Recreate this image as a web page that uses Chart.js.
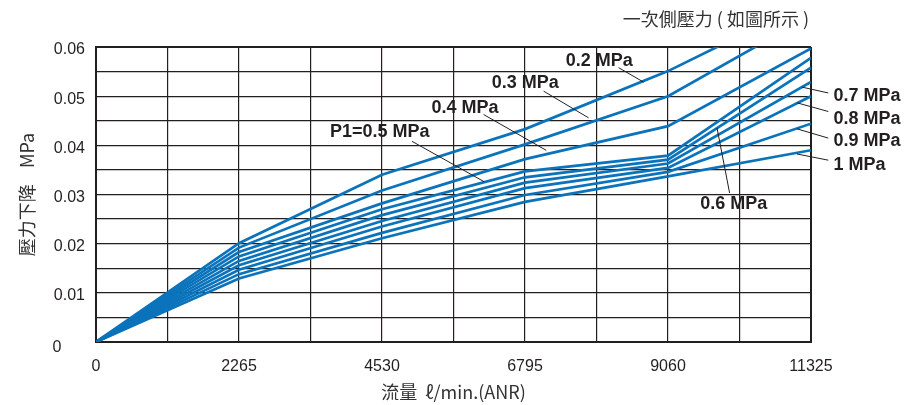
<!DOCTYPE html>
<html lang="zh-Hant">
<head>
<meta charset="UTF-8">
<title>壓力下降</title>
<script src="https://cdn.jsdelivr.net/npm/chart.js"></script>
<style>
  html, body { margin: 0; padding: 0; background: #fff; }
  #wrap { width: 906px; height: 405px; }
</style>
</head>
<body>
<div id="wrap"><canvas id="chart" width="906" height="405"></canvas></div>
<script>
// flow (l/min ANR) and pressure drop (MPa) for each primary pressure
const flow = [0, 2265, 4530, 6795, 9060, 11325];
const drop02 = [0, 0.0201, 0.0340, 0.0433, 0.0551, 0.0694]; // leaves the frame at the top
const drop03 = [0, 0.0192, 0.0308, 0.0402, 0.0500, 0.0664]; // leaves the frame at the top
const drop04 = [0, 0.0183, 0.0282, 0.0372, 0.0439, 0.0597];
const drop05 = [0, 0.0174, 0.0270, 0.0347, 0.0379, 0.0578];
const drop06 = [0, 0.0165, 0.0258, 0.0335, 0.0371, 0.0558];
const drop07 = [0, 0.0156, 0.0246, 0.0324, 0.0363, 0.0529];
const drop08 = [0, 0.0147, 0.0235, 0.0313, 0.0354, 0.0500];
const drop09 = [0, 0.0138, 0.0222, 0.0299, 0.0346, 0.0444];
const drop10 = [0, 0.0129, 0.0211, 0.0285, 0.0337, 0.0390];
const pressures = ['0.2', '0.3', '0.4', '0.5', '0.6', '0.7', '0.8', '0.9', '1'];
const drops = [drop02, drop03, drop04, drop05, drop06, drop07, drop08, drop09, drop10];

const xTickLabels = ['0', '2265', '4530', '6795', '9060', '11325'];
const yTickLabels = ['0', '0.01', '0.02', '0.03', '0.04', '0.05', '0.06'];

// curve labels: text anchor and leader line, in data units
const notes = [
  { text: '0.2 MPa', at: [7972, 0.05714], align: 'center', lead: [[8277, 0.0558], [8673, 0.05286]] },
  { text: '0.3 MPa', at: [6800, 0.05273], align: 'center', lead: [[7090, 0.05102], [7802, 0.04559]] },
  { text: '0.4 MPa', at: [5845, 0.04749], align: 'center', lead: [[6139, 0.04627], [7132, 0.03898]] },
  { text: 'P1=0.5 MPa', at: [4495, 0.04269], align: 'center', lead: [[5005, 0.04082], [6150, 0.03259]] },
  { text: '0.6 MPa', at: [10102, 0.0280], align: 'center', lead: [[10036, 0.03029], [9836, 0.04355]] },
  { text: '0.7 MPa', at: [11681, 0.0500], align: 'left', lead: [[11182, 0.05184], [11599, 0.05065]] },
  { text: '0.8 MPa', at: [11681, 0.04539], align: 'left', lead: [[11103, 0.04865], [11599, 0.04688]] },
  { text: '0.9 MPa', at: [11681, 0.04082], align: 'left', lead: [[11103, 0.04335], [11599, 0.04147]] },
  { text: '1 MPa', at: [11681, 0.03606], align: 'left', lead: [[11103, 0.03824], [11599, 0.03698]] }
];

const ink = '#231f20';
const blue = '#0a73bb';
const sans = '"Liberation Sans", Arial, sans-serif';
const cjk = '"Noto Sans CJK TC", "Liberation Sans", sans-serif';

const datasets = drops.map((d, i) => ({
  label: pressures[i] + ' MPa',
  data: flow.map((f, k) => ({ x: f, y: d[k] })),
  borderColor: blue,
  borderWidth: 2.7,
  pointRadius: 0,
  tension: 0,
  fill: false,
  clip: 0
}));

const notesPlugin = {
  id: 'notes',
  afterDatasetsDraw(chart) {
    const { ctx, scales: { x, y } } = chart;
    ctx.save();
    ctx.strokeStyle = ink;
    ctx.lineWidth = 1;
    notes.forEach(n => {
      ctx.beginPath();
      ctx.moveTo(x.getPixelForValue(n.lead[0][0]), y.getPixelForValue(n.lead[0][1]));
      ctx.lineTo(x.getPixelForValue(n.lead[1][0]), y.getPixelForValue(n.lead[1][1]));
      ctx.stroke();
    });
    ctx.fillStyle = ink;
    ctx.font = 'bold 18px ' + sans;
    ctx.textBaseline = 'middle';
    notes.forEach(n => {
      ctx.textAlign = n.align;
      ctx.fillText(n.text, x.getPixelForValue(n.at[0]), y.getPixelForValue(n.at[1]));
    });
    // the zero of the y axis sits apart, below-left of the other labels
    ctx.font = '16px ' + sans;
    ctx.textAlign = 'center';
    ctx.fillText(yTickLabels[0], y.left + 57, y.getPixelForValue(0) + 6);
    // caption at top right
    ctx.fillStyle = '#333';
    ctx.font = '18px ' + cjk;
    ctx.textAlign = 'right';
    ctx.fillText('一次側壓力 ( 如圖所示 )', chart.chartArea.right - 2, 19);
    ctx.restore();
  }
};

const edgeWidth = c => (c.index === 0 || c.index === c.chart.scales[c.scale.id].ticks.length - 1) ? 2 : 1.2;

new Chart(document.getElementById('chart'), {
  type: 'line',
  data: { datasets },
  options: {
    responsive: false,
    devicePixelRatio: 1,
    animation: false,
    layout: { padding: { top: 47, right: 95, left: 0, bottom: 0 } },
    plugins: { legend: { display: false }, tooltip: { enabled: false } },
    scales: {
      x: {
        type: 'linear',
        min: 0,
        max: 11325,
        afterFit(s) { s.height = 63; },
        ticks: {
          stepSize: 1132.5,
          padding: 15,
          color: ink,
          font: { family: sans, size: 16 },
          maxRotation: 0,
          autoSkip: false,
          callback: (v, i) => i % 2 === 0 ? xTickLabels[i / 2] : ''
        },
        grid: { color: ink, lineWidth: edgeWidth, drawTicks: false },
        border: { display: true, color: ink, width: 2 },
        title: {
          display: true,
          text: '流量  ℓ/min.(ANR)',
          color: '#333',
          font: { family: cjk, size: 18 },
          padding: { top: 0, bottom: 2 }
        }
      },
      y: {
        min: 0,
        max: 0.06,
        afterFit(s) { s.width = 96; },
        ticks: {
          stepSize: 0.005,
          padding: 11,
          labelOffset: 3,
          color: ink,
          font: { family: sans, size: 16 },
          autoSkip: false,
          callback: (v, i) => (i % 2 === 0 && i > 0) ? yTickLabels[i / 2] : ''
        },
        grid: { color: ink, lineWidth: edgeWidth, drawTicks: false },
        border: { display: true, color: ink, width: 2 },
        title: {
          display: true,
          text: '壓力下降    MPa',
          color: '#333',
          font: { family: cjk, size: 18 },
          padding: { top: 16, bottom: 0 }
        }
      }
    }
  },
  plugins: [notesPlugin]
});
</script>
</body>
</html>
